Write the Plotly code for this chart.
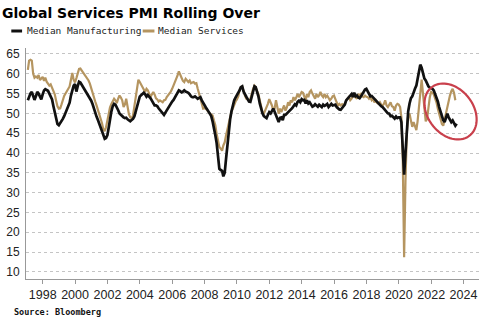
import math
import pandas as pd
import plotly.graph_objects as go

# ---------------- data (monthly, month-end, from Jan 1997) ----------------
start_month = "1997-01-01"

manufacturing = [
    53.3, 54.2, 55.0, 55.4, 54.5, 53.4, 54.3, 55.4, 55.0, 54.1, 53.5, 54.8,  # 1997
    55.8, 56.1, 55.9, 55.7, 55.0, 54.3, 53.5, 51.8, 50.2, 48.5, 47.3, 47.0,  # 1998
    47.5, 48.0, 48.6, 49.3, 50.2, 51.0, 51.8, 52.7, 54.5, 56.0, 57.0, 57.4,  # 1999
    55.5, 56.8, 58.0, 57.8, 57.2, 56.7, 56.2, 55.6, 55.0, 54.6, 54.0, 53.2,  # 2000
    52.3, 51.2, 50.2, 49.2, 48.3, 47.4, 46.5, 45.6, 44.5, 43.6, 43.8, 44.5,  # 2001
    46.5, 48.8, 50.5, 51.8, 52.4, 52.2, 51.6, 50.8, 50.0, 49.6, 49.2, 49.0,  # 2002
    48.8, 48.9, 48.5, 48.2, 48.0, 48.3, 48.6, 49.2, 50.5, 52.0, 53.3, 54.2,  # 2003
    54.6, 55.0, 55.2, 54.8, 54.2, 54.6, 54.3, 53.8, 53.2, 52.6, 52.0, 52.0,  # 2004
    51.8, 51.3, 50.8, 50.3, 49.8, 49.6, 50.2, 50.8, 51.3, 52.0, 52.6, 53.0,  # 2005
    53.4, 54.0, 54.7, 55.3, 55.8, 55.6, 55.3, 55.5, 55.8, 55.5, 55.4, 55.2,  # 2006
    54.8, 54.3, 54.1, 54.1, 54.3, 54.0, 53.7, 53.9, 54.1, 53.3, 52.6, 52.0,  # 2007
    51.5, 51.0, 50.5, 49.8, 49.3, 48.0, 46.5, 44.5, 42.5, 39.5, 36.0, 35.7,  # 2008
    35.5, 34.1, 35.0, 38.5, 42.5, 45.5, 48.5, 50.5, 52.0, 53.3, 54.0, 54.6,  # 2009
    55.0, 55.8, 56.6, 56.8, 55.5, 54.7, 54.2, 53.6, 53.0, 52.9, 54.2, 56.0,  # 2010
    56.8, 56.6, 55.6, 54.3, 52.5, 51.0, 50.0, 49.3, 49.0, 48.8, 49.6, 50.3,  # 2011
    50.0, 50.6, 51.2, 50.4, 49.6, 48.4, 47.8, 48.9, 49.0, 48.3, 49.6, 49.6,  # 2012
    49.9, 50.3, 50.6, 51.0, 51.3, 51.8, 52.3, 52.0, 52.9, 53.2, 52.8, 53.6,  # 2013
    53.3, 53.4, 52.5, 53.3, 52.5, 52.8, 52.1, 51.7, 51.9, 52.3, 52.0, 51.7,  # 2014
    52.2, 52.0, 51.6, 52.2, 51.9, 52.1, 52.4, 51.6, 51.9, 52.4, 52.0, 52.1,  # 2015
    52.2, 51.6, 51.2, 51.0, 50.9, 51.4, 51.8, 52.2, 53.3, 53.7, 54.2, 54.6,  # 2016
    54.9, 54.1, 55.2, 54.3, 54.5, 54.0, 53.8, 54.3, 54.9, 55.6, 56.0, 56.2,  # 2017
    55.6, 55.0, 54.3, 54.4, 54.0, 53.6, 53.3, 52.9, 52.5, 52.2, 51.8, 51.6,  # 2018
    51.3, 50.8, 50.4, 50.0, 49.9, 49.3, 49.4, 49.0, 48.7, 49.2, 48.8, 49.0,  # 2019
    49.0, 47.8, 41.5, 34.5, 40.0, 46.5, 50.5, 52.5, 53.8, 54.3, 55.4, 56.2,  # 2020
    57.0, 58.5, 61.0, 62.3, 61.5, 60.0, 58.8, 58.3, 57.3, 56.8, 56.5, 56.3,  # 2021
    56.2, 55.8, 55.0, 54.2, 53.0, 51.6, 50.4, 49.2, 48.3, 47.8, 48.8, 49.9,  # 2022
    49.0, 48.2, 47.8, 48.2, 47.4, 46.9, 47.4,                                # 2023
]

services = [
    61.0, 63.3, 63.5, 63.3, 60.0, 59.0, 59.3, 59.0, 59.7, 58.4, 58.8, 59.2,  # 1997
    58.2, 59.0, 58.0, 57.6, 57.0, 57.3, 56.4, 55.6, 54.8, 53.2, 51.8, 51.2,  # 1998
    51.3, 52.2, 53.5, 54.4, 55.0, 55.6, 56.2, 56.8, 58.5, 60.2, 58.5, 57.8,  # 1999
    58.9, 60.3, 61.2, 61.3, 60.8, 60.4, 59.9, 59.4, 58.9, 58.3, 57.5, 56.2,  # 2000
    55.0, 54.0, 53.0, 52.0, 51.0, 49.8, 48.7, 47.5, 46.0, 45.5, 46.5, 48.5,  # 2001
    50.5, 51.5, 52.4, 53.3, 53.7, 53.3, 52.6, 53.7, 54.5, 54.0, 53.3, 51.6,  # 2002
    52.3, 53.7, 51.3, 49.8, 49.0, 48.8, 49.4, 51.5, 53.5, 56.2, 58.5, 57.9,  # 2003
    57.2, 56.8, 56.2, 55.4, 56.2, 55.8, 55.0, 54.1, 54.8, 55.4, 54.8, 53.8,  # 2004
    53.5, 53.0, 53.3, 53.0, 52.8, 53.3, 53.4, 54.1, 54.5, 54.9, 55.5, 56.2,  # 2005
    57.0, 57.9, 58.5, 59.5, 60.6, 60.0, 59.0, 58.2, 57.9, 58.7, 58.2, 57.9,  # 2006
    58.3, 57.6, 57.8, 57.9, 57.5, 57.6, 56.2, 54.9, 53.7, 52.0, 51.2, 51.3,  # 2007
    51.2, 50.8, 50.3, 50.0, 49.7, 49.5, 48.2, 47.0, 44.8, 43.2, 41.5, 41.1,  # 2008
    40.6, 41.9, 42.7, 44.4, 46.1, 48.0, 49.5, 50.5, 51.2, 52.2, 53.0, 53.5,  # 2009
    54.3, 55.8, 56.6, 56.8, 55.4, 54.5, 53.7, 53.5, 53.3, 53.6, 55.0, 56.2,  # 2010
    57.0, 56.6, 55.6, 54.9, 53.3, 51.5, 50.3, 49.9, 50.7, 51.4, 52.4, 53.6,  # 2011
    52.8, 52.0, 50.7, 51.2, 53.3, 51.6, 49.9, 51.2, 50.3, 51.2, 52.0, 50.7,  # 2012
    51.5, 52.8, 52.0, 53.3, 52.8, 54.1, 53.3, 54.0, 54.9, 54.1, 54.6, 55.4,  # 2013
    55.2, 54.5, 53.3, 54.9, 54.1, 55.4, 55.8, 55.0, 54.5, 53.7, 54.9, 54.1,  # 2014
    54.6, 55.4, 54.5, 54.1, 54.9, 54.1, 54.5, 53.7, 53.3, 53.7, 54.3, 54.5,  # 2015
    53.3, 52.8, 52.0, 52.4, 52.0, 52.3, 52.0, 52.6, 53.3, 53.7, 54.1, 53.3,  # 2016
    53.7, 54.5, 54.9, 54.1, 53.7, 54.9, 54.5, 54.9, 54.3, 54.1, 54.5, 54.2,  # 2017
    54.1, 53.7, 54.1, 53.3, 53.7, 52.8, 53.3, 52.6, 52.4, 52.8, 52.2, 52.0,  # 2018
    52.4, 53.3, 52.0, 51.6, 52.4, 52.8, 51.8, 51.6, 50.7, 52.0, 52.4, 52.2,  # 2019
    51.6, 49.0, 38.0, 13.7, 33.0, 45.0, 49.5, 49.9, 48.2, 46.6, 47.8, 46.6,  # 2020
    45.8, 48.0, 52.0, 55.8, 58.5, 55.0, 51.0, 48.0, 48.6, 51.5, 54.0, 55.4,  # 2021
    55.2, 54.8, 54.0, 52.8, 51.2, 49.8, 48.4, 47.3, 46.9, 48.5, 50.3, 51.8,  # 2022
    53.0, 54.5, 55.6, 56.2, 55.2, 53.3, None,                                # 2023
]

y_ticks = [10, 15, 20, 25, 30, 35, 40, 45, 50, 55, 60, 65]
series_names = ["Median Manufacturing", "Median Services"]
title_text = "Global Services PMI Rolling Over"
source_text = "Source: Bloomberg"

# ---------------- build ----------------
dates = pd.date_range(start_month, periods=len(manufacturing), freq="MS") + pd.offsets.MonthEnd(0)

W, H = 485, 327
L, R, T, B = 17, 6, 48, 48
pw, ph = W - L - R, H - T - B

def px(x):
    return (x - L) / pw

def py(y):
    return (H - B - y) / ph

BLACK = "#111111"
GOLD = "#b59560"

fig = go.Figure()
fig.add_trace(go.Scatter(x=dates, y=services, mode="lines", name=series_names[1],
                         line=dict(color=GOLD, width=2.2), connectgaps=False))
fig.add_trace(go.Scatter(x=dates, y=manufacturing, mode="lines", name=series_names[0],
                         line=dict(color=BLACK, width=2.7)))

fig.update_layout(
    width=W, height=H,
    margin=dict(l=L, r=R, t=T, b=B),
    paper_bgcolor="white", plot_bgcolor="white",
    showlegend=False,
    title=dict(text=f"<b>{title_text}</b>", xref="container", yref="container",
               x=2 / W, xanchor="left", y=1 - 13 / H, yanchor="middle",
               font=dict(family="DejaVu Sans", size=14, color="#000000")),
    xaxis=dict(type="date", range=["1996-12-20", "2024-12-15"],
               tick0="1998-01-01", dtick="M24", tickformat="%Y",
               ticks="outside", ticklen=4, tickcolor="#999999",
               showline=True, linecolor="#999999", linewidth=1,
               showgrid=False, zeroline=False,
               tickfont=dict(family="Liberation Sans", size=12.5, color="#222222")),
    yaxis=dict(range=[8.2, 66.5], tickvals=y_ticks,
               showline=True, linecolor="#999999", linewidth=1,
               showgrid=True, gridcolor="#c4c4c4", griddash="dot", gridwidth=1,
               zeroline=False, ticks="", ticklabelstandoff=3,
               tickfont=dict(family="Liberation Sans", size=12, color="#222222")),
)

# legend (manual)
leg_y = 31
for (x0, x1, tx, col, name) in [(2, 13, 16, BLACK, series_names[0]), (136, 148, 150, GOLD, series_names[1])]:
    fig.add_shape(type="line", xref="paper", yref="paper",
                  x0=px(x0), x1=px(x1), y0=py(leg_y), y1=py(leg_y),
                  line=dict(color=col, width=3))
    fig.add_annotation(text=name, xref="paper", yref="paper", x=px(tx), y=py(leg_y),
                       xanchor="left", yanchor="middle", showarrow=False,
                       font=dict(family="DejaVu Sans Mono", size=9.5, color="#222222"))

# source
fig.add_annotation(text=f"<b>{source_text}</b>", xref="paper", yref="paper",
                   x=px(3), y=py(312), xanchor="left", yanchor="middle", showarrow=False,
                   font=dict(family="DejaVu Sans Mono", size=8.5, color="#111111"))

# red highlight ellipse (tilted)
cx, cy, a, b, ang = 450.0, 111.5, 31, 23, math.radians(50)
pts = []
for k in range(73):
    t = 2 * math.pi * k / 72
    ex = a * math.cos(t)
    ey = b * math.sin(t)
    X = cx + ex * math.cos(ang) - ey * math.sin(ang)
    Y = cy + ex * math.sin(ang) + ey * math.cos(ang)
    pts.append((px(X), py(Y)))
path = "M " + " L ".join(f"{x:.5f},{y:.5f}" for x, y in pts) + " Z"
fig.add_shape(type="path", path=path, xref="paper", yref="paper",
              line=dict(color="#c9404c", width=2.2))

fig.write_html("out.html")
